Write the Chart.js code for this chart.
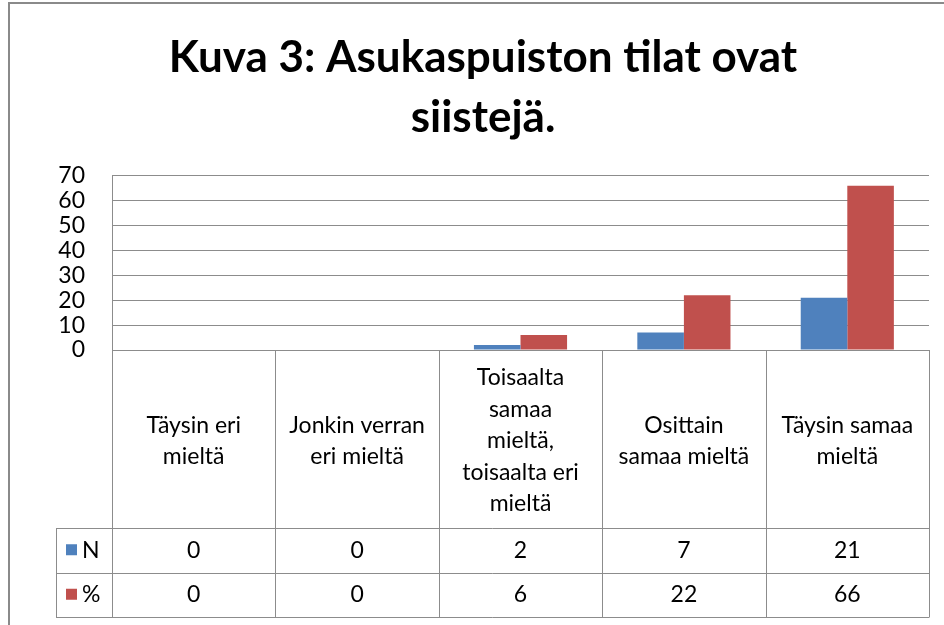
<!DOCTYPE html>
<html>
<head>
<meta charset="utf-8">
<script src="https://cdn.jsdelivr.net/npm/chart.js@4"></script>
<style>
  html, body { margin: 0; padding: 0; background: #fff; }
  #wrap { width: 944px; height: 625px; }
</style>
</head>
<body>
<div id="wrap"><canvas id="myChart" width="944" height="625"></canvas></div>
<script>
'use strict';
//chart data
var titleLines = ['Kuva 3: Asukaspuiston tilat ovat', 'siistejä.'];
var categories = [
  ['Täysin eri', 'mieltä'],
  ['Jonkin verran', 'eri mieltä'],
  ['Toisaalta', 'samaa', 'mieltä,', 'toisaalta eri', 'mieltä'],
  ['Osittain', 'samaa mieltä'],
  ['Täysin samaa', 'mieltä']
];
var seriesNames = ['N', '%'];
var nValues = [0, 0, 2, 7, 21];
var pctValues = [0, 0, 6, 22, 66];
var yMin = 0;
var yMax = 70;
var yStep = 10;

var FONT = 'Lato, "Open Sans", sans-serif';
var GRID = '#8c8c8c';
var COLORS = ['#4f81bd', '#c0504d'];

//frame round the whole chart
var framePlugin = {
  id: 'frame',
  beforeDraw: function(chart){
    var ctx = chart.ctx;
    ctx.save();
    ctx.fillStyle = '#fff';
    ctx.fillRect(0, 0, chart.width, chart.height);
    ctx.strokeStyle = '#8a8a8a';
    ctx.lineWidth = 2;
    ctx.strokeRect(9, 3, chart.width + 20, chart.height + 20);
    ctx.restore();
  }
};

//data table under the plot area
var tablePlugin = {
  id: 'dataTable',
  afterDraw: function(chart){
    var ctx = chart.ctx;
    var xs = chart.scales.x;
    var area = chart.chartArea;
    var half = (xs.getPixelForValue(1) - xs.getPixelForValue(0)) / 2;
    var top = area.bottom;
    var labelBottom = top + 178;
    var rowH = 44.5;
    var rows = [nValues, pctValues];
    var legendLeft = 56;

    ctx.save();
    ctx.strokeStyle = GRID;
    ctx.lineWidth = 1;
    ctx.beginPath();
    for (var i = 0; i <= categories.length; i++) {
      var bx = Math.round(xs.getPixelForValue(i) - half) + 0.5;
      ctx.moveTo(bx, top);
      ctx.lineTo(bx, labelBottom + rowH * 2);
    }
    for (var r = 0; r <= 2; r++) {
      var by = Math.round(labelBottom + rowH * r) + 0.5;
      ctx.moveTo(legendLeft, by);
      ctx.lineTo(Math.round(area.right) + 0.5, by);
    }
    ctx.moveTo(legendLeft + 0.5, labelBottom);
    ctx.lineTo(legendLeft + 0.5, labelBottom + rowH * 2);
    ctx.stroke();

    ctx.fillStyle = '#000';
    ctx.font = '23px ' + FONT;
    ctx.textAlign = 'center';
    ctx.textBaseline = 'middle';
    var lineH = 31.5;
    for (var c = 0; c < categories.length; c++) {
      var cx = xs.getPixelForValue(c);
      var lines = categories[c];
      var startY = (top + labelBottom) / 2 - (lines.length - 1) * lineH / 2 + 2;
      for (var l = 0; l < lines.length; l++) {
        ctx.fillText(lines[l], cx, startY + l * lineH);
      }
      for (var k = 0; k < rows.length; k++) {
        ctx.fillText(String(rows[k][c]), cx, labelBottom + rowH * k + rowH / 2);
      }
    }

    ctx.textAlign = 'left';
    for (var s = 0; s < seriesNames.length; s++) {
      var ry = labelBottom + rowH * s + rowH / 2;
      ctx.fillStyle = COLORS[s];
      ctx.fillRect(66, ry - 6, 11, 11);
      ctx.fillStyle = '#000';
      ctx.fillText(seriesNames[s], 82, ry);
    }
    ctx.restore();
  }
};

var ctx = document.getElementById('myChart').getContext('2d');

new Chart(ctx, {
  type: 'bar',
  data: {
    labels: categories.map(function(c){ return c.join(' '); }),
    datasets: [
      { label: seriesNames[0], data: nValues, backgroundColor: COLORS[0] },
      { label: seriesNames[1], data: pctValues, backgroundColor: COLORS[1] }
    ]
  },
  options: {
    responsive: false,
    animation: false,
    devicePixelRatio: 1,
    layout: { padding: { left: 37, right: 15, top: 0, bottom: 267 } },
    datasets: {
      bar: { barPercentage: 1, categoryPercentage: 0.57 }
    },
    plugins: {
      legend: { display: false },
      tooltip: { enabled: false },
      title: {
        display: true,
        text: titleLines,
        color: '#000',
        font: { family: FONT, weight: 'bold', size: 44, lineHeight: 1.36 },
        padding: { top: 28, bottom: 28 }
      }
    },
    scales: {
      x: {
        ticks: { display: false },
        grid: { display: false },
        border: { display: true, color: GRID, width: 1 }
      },
      y: {
        min: yMin,
        max: yMax,
        ticks: { stepSize: yStep, autoSkip: false, padding: 27, color: '#000', font: { family: FONT, size: 23 } },
        grid: { color: GRID, drawTicks: false },
        border: { display: true, color: GRID, width: 1 },
        afterFit: function(scale){ scale.width = 75; }
      }
    }
  },
  plugins: [framePlugin, tablePlugin]
});
</script>
</body>
</html>
